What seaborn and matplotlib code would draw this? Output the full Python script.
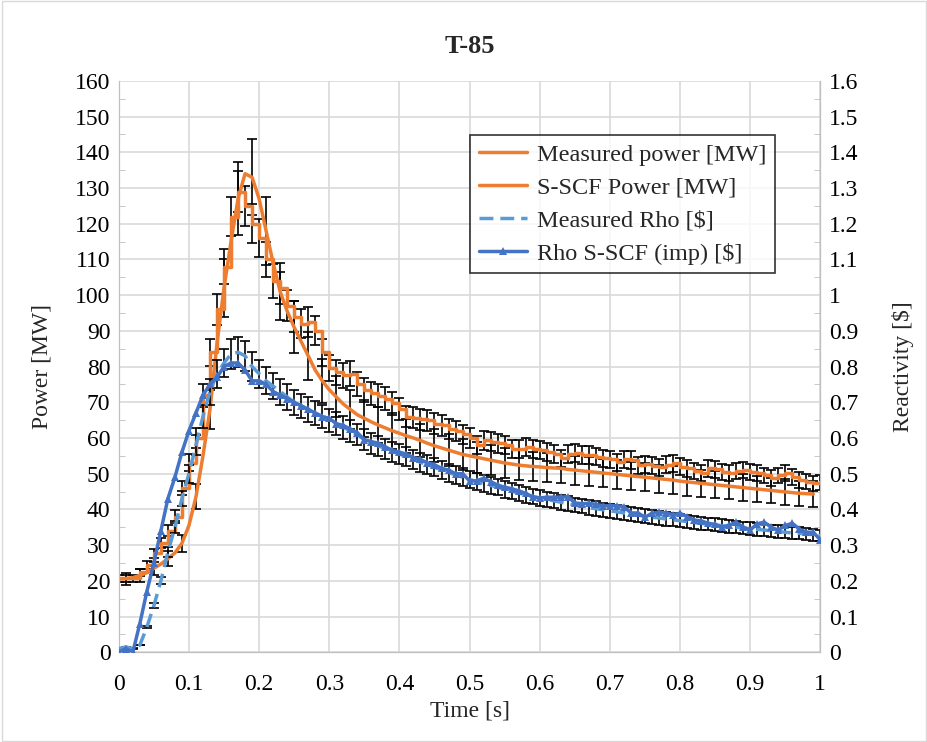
import numpy as np
import pandas as pd
import seaborn as sns
import matplotlib.pyplot as plt
import matplotlib.ticker as mticker
from matplotlib.patches import Rectangle

# time grid of the measurements (s)
time_s = [round(0.01 * i, 2) for i in range(101)]

measured_power = [
    20.7, 20.7, 20.7, 22.4, 24.4, 27.7, 30.5, 34.0, 38.0, 46.0,
    53.0, 60.0, 72.0, 84.0, 96.0, 108.0, 122.0, 129.0, 125.0, 120.0,
    116.0, 110.0, 104.0, 102.0, 97.0, 94.0, 92.0, 92.5, 90.0, 84.0,
    79.6, 78.4, 77.6, 78.0, 75.0, 73.5, 72.5, 71.8, 71.0, 69.7,
    68.0, 66.0, 65.7, 65.2, 65.0, 64.0, 63.5, 62.5, 62.0, 61.0,
    60.0, 58.0, 59.4, 59.0, 58.5, 58.0, 57.0, 57.0, 57.4, 57.0,
    56.6, 56.0, 55.5, 54.3, 55.5, 55.7, 55.3, 55.2, 54.8, 54.3,
    54.0, 53.2, 54.0, 53.8, 52.4, 52.6, 52.2, 51.8, 52.5, 52.9,
    52.0, 51.5, 50.8, 50.1, 51.5, 51.2, 50.5, 50.1, 50.8, 51.0,
    50.5, 50.1, 49.5, 48.7, 49.5, 50.1, 49.0, 48.2, 47.8, 47.3, 47.6,
]

sscf_power = [
    20.5, 20.6, 20.9, 21.5, 22.3, 23.5, 24.7, 26.2, 27.8, 30.5,
    35.5, 43.5, 55.0, 68.0, 86.5, 102.0, 115.0, 127.0, 134.0, 133.0,
    127.0, 118.0, 109.0, 101.0, 95.5, 91.0, 87.0, 83.0, 79.0, 76.0,
    73.5, 71.5, 69.5, 68.0, 66.5, 65.5, 64.5, 63.6, 62.8, 62.0,
    61.3, 60.6, 60.0, 59.3, 58.5, 57.8, 57.2, 56.6, 56.0, 55.4,
    55.0, 54.6, 54.2, 53.8, 53.4, 53.0, 52.7, 52.4, 52.2, 52.0,
    51.9, 51.7, 51.6, 51.5, 51.2, 51.0, 50.8, 50.6, 50.4, 50.2,
    50.0, 49.8, 49.6, 49.4, 49.2, 49.0, 48.8, 48.6, 48.4, 48.2,
    47.9, 47.7, 47.5, 47.3, 47.1, 46.9, 46.7, 46.5, 46.3, 46.1,
    45.9, 45.7, 45.5, 45.3, 45.1, 44.9, 44.7, 44.5, 44.4, 44.3,
]

measured_rho = [
    0.010, 0.015, 0.010, 0.020, 0.070, 0.130, 0.200, 0.280, 0.350, 0.430,
    0.500, 0.580, 0.660, 0.730, 0.780, 0.810, 0.835, 0.840, 0.830, 0.800,
    0.780, 0.760, 0.745, 0.730, 0.715, 0.700, 0.690, 0.680, 0.670, 0.660,
    0.650, 0.640, 0.630, 0.620, 0.610, 0.595, 0.585, 0.578, 0.570, 0.562,
    0.555, 0.548, 0.540, 0.532, 0.525, 0.518, 0.510, 0.503, 0.497, 0.490,
    0.484, 0.478, 0.472, 0.467, 0.462, 0.456, 0.451, 0.446, 0.441, 0.436,
    0.432, 0.428, 0.424, 0.420, 0.416, 0.412, 0.409, 0.405, 0.402, 0.399,
    0.396, 0.393, 0.390, 0.387, 0.384, 0.381, 0.378, 0.376, 0.373, 0.371,
    0.368, 0.366, 0.363, 0.361, 0.359, 0.357, 0.354, 0.352, 0.350, 0.348,
    0.346, 0.344, 0.342, 0.340, 0.338, 0.336, 0.334, 0.333, 0.331, 0.329, 0.327,
]

rho_sscf = [
    0.000, 0.010, 0.000, 0.080, 0.170, 0.250, 0.340, 0.430, 0.490, 0.560,
    0.620, 0.670, 0.720, 0.750, 0.770, 0.800, 0.810, 0.810, 0.790, 0.760,
    0.760, 0.750, 0.730, 0.720, 0.710, 0.700, 0.690, 0.680, 0.670, 0.660,
    0.655, 0.640, 0.635, 0.625, 0.615, 0.595, 0.590, 0.585, 0.575, 0.565,
    0.560, 0.555, 0.545, 0.540, 0.530, 0.525, 0.515, 0.510, 0.500, 0.500,
    0.480, 0.480, 0.487, 0.478, 0.468, 0.462, 0.458, 0.452, 0.445, 0.435,
    0.432, 0.434, 0.434, 0.434, 0.436, 0.418, 0.416, 0.417, 0.414, 0.410,
    0.410, 0.410, 0.408, 0.390, 0.390, 0.378, 0.389, 0.392, 0.390, 0.385,
    0.389, 0.380, 0.370, 0.368, 0.361, 0.358, 0.350, 0.356, 0.364, 0.350,
    0.342, 0.360, 0.364, 0.350, 0.342, 0.355, 0.361, 0.345, 0.336, 0.336, 0.314,
]

# relative uncertainties used for the error bars
power_meas_err = 0.045
power_sscf_err = 0.08
rho_err = 0.05

orange = "#ED7D31"
blue = "#4472C4"
light_blue = "#5B9BD5"

df_meas = pd.DataFrame({"t": time_s, "P": measured_power, "rho": measured_rho, "rho_s": rho_sscf})
df_sscf = pd.DataFrame({"t": time_s[:len(sscf_power)], "P": sscf_power})

sns.set_style("white")
plt.rcParams["font.family"] = ["Liberation Serif", "DejaVu Serif"]

fig = plt.figure(figsize=(9.28, 7.42), dpi=100)
ax = fig.add_axes([0.128, 0.121, 0.756, 0.770])
ax2 = ax.twinx()

# error bars first so lines sit on top
eb = dict(fmt="none", ecolor="black", elinewidth=1.2, capsize=3.5, capthick=1.2, zorder=2)
ax.errorbar(df_meas["t"], df_meas["P"], yerr=df_meas["P"] * power_meas_err, **eb)
ax.errorbar(df_sscf["t"][1::2], df_sscf["P"][1::2], yerr=df_sscf["P"][1::2] * power_sscf_err, **eb)
ax2.errorbar(df_meas["t"], df_meas["rho"], yerr=df_meas["rho"] * rho_err, **eb)

sns.lineplot(data=df_meas, x="t", y="P", ax=ax, color=orange, lw=2.5,
             drawstyle="steps-post", label="Measured power [MW]", legend=False, zorder=3)
sns.lineplot(data=df_sscf, x="t", y="P", ax=ax, color=orange, lw=2.5,
             label="S-SCF Power [MW]", legend=False, zorder=3)
sns.lineplot(data=df_meas, x="t", y="rho", ax=ax2, color=light_blue, lw=2.5,
             linestyle=(0, (4, 2)), label="Measured Rho [\\$]", legend=False, zorder=3)
sns.lineplot(data=df_meas, x="t", y="rho_s", ax=ax2, color=blue, lw=2.5,
             marker="^", markersize=6, markeredgewidth=0, label="Rho S-SCF (imp) [\\$]",
             legend=False, zorder=4)

ax.set_xlim(0, 1)
ax.set_ylim(0, 160)
ax2.set_ylim(0, 1.6)
ax.set_xticks(np.arange(0, 1.01, 0.1))
ax.set_yticks(np.arange(0, 161, 10))
ax2.set_yticks(np.arange(0, 1.61, 0.1))
fmt = mticker.FuncFormatter(lambda v, p: f"{v:g}")
ax.xaxis.set_major_formatter(fmt)
ax.yaxis.set_major_formatter(fmt)
ax2.yaxis.set_major_formatter(fmt)
ax.xaxis.set_minor_locator(mticker.MultipleLocator(0.02))
ax.yaxis.set_minor_locator(mticker.MultipleLocator(5))
ax2.yaxis.set_minor_locator(mticker.MultipleLocator(0.05))

ax.grid(True, which="major", color="#D9D9D9", lw=1.2)
ax.set_axisbelow(True)
for a in (ax, ax2):
    for s in a.spines.values():
        s.set_color("#BFBFBF")
    a.spines["top"].set_visible(False)
ax.tick_params(axis="both", which="both", colors="#BFBFBF", labelcolor="black", labelsize=17)
ax.tick_params(axis="x", which="major", length=0, pad=16)
ax.tick_params(axis="x", which="minor", length=4, direction="out")
ax.tick_params(axis="y", which="major", length=0, pad=6)
ax.tick_params(axis="y", which="minor", length=4, direction="in")
ax2.tick_params(axis="y", which="both", colors="#BFBFBF", labelcolor="black", labelsize=17)
ax2.tick_params(axis="y", which="major", length=0, pad=6)
ax2.tick_params(axis="y", which="minor", length=4, direction="in")

ax.set_xlabel("Time [s]", fontsize=17, labelpad=4)
ax.set_ylabel("Power [MW]", fontsize=17, labelpad=16)
ax2.set_ylabel("Reactivity [\\$]", fontsize=17, labelpad=24)
ax.set_title("T-85", fontsize=19, fontweight="bold", pad=20)

h1, l1 = ax.get_legend_handles_labels()
h2, l2 = ax2.get_legend_handles_labels()
leg = ax2.legend(h1 + h2, l1 + l2, loc="upper right", bbox_to_anchor=(0.935, 0.905),
                 fontsize=17.5, frameon=True, fancybox=False, edgecolor="black",
                 handlelength=2.0, handletextpad=0.4, borderpad=0.35, labelspacing=0.45,
                 borderaxespad=0)
leg.get_frame().set_linewidth(1.2)

fig.patches.append(Rectangle((0.002, 0.002), 0.996, 0.996, transform=fig.transFigure,
                             fill=False, edgecolor="#D9D9D9", lw=1))

fig.savefig("out.png", dpi=100)
